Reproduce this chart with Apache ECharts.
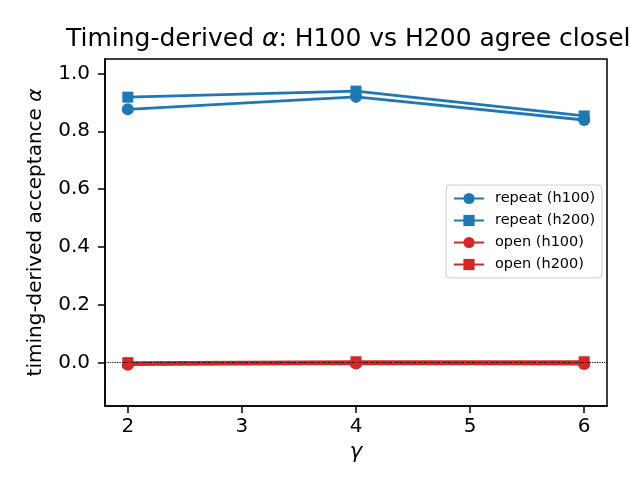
<!DOCTYPE html>
<html>
<head>
<meta charset="utf-8">
<script src="https://cdn.jsdelivr.net/npm/echarts@6/dist/echarts.min.js"></script>
<style>
  html, body { margin: 0; padding: 0; background: #fff; }
  #main { width: 630px; height: 495px; }
</style>
</head>
<body>
<div id="main"></div>
<script>
// gamma values on the x axis
const gammas = [2, 4, 6];
// timing-derived acceptance
const repeatH100 = [0.876, 0.919, 0.839];
const repeatH200 = [0.918, 0.939, 0.853];
const openH100 = [-0.007, -0.003, -0.005];
const openH200 = [0.0, 0.003, 0.003];
// tick labels
const xTicks = [2, 3, 4, 5, 6];
const yTicks = [0.0, 0.2, 0.4, 0.6, 0.8, 1.0];

const BLUE = '#1f77b4';
const RED = '#d62728';
const FONT = 'DejaVu Sans';

function pairs(ys) {
    return gammas.map((g, i) => [g, ys[i]]);
}

function lineSeries(name, ys, color, symbol, size) {
    return {
        name: name,
        type: 'line',
        data: pairs(ys),
        symbol: symbol,
        symbolSize: size,
        showAllSymbol: true,
        lineStyle: { color: color, width: 2.8 },
        itemStyle: { color: color, borderWidth: 0 },
        emphasis: { disabled: true },
        animation: false
    };
}

var chart = echarts.init(document.getElementById('main'), null, { renderer: 'canvas' });

var option = {
    backgroundColor: '#fff',
    animation: false,
    textStyle: { fontFamily: FONT },
    title: {
        text: 'Timing-derived {i|α}: H100 vs H200 agree closel',
        left: 61,
        top: 22,
        textStyle: {
            fontFamily: FONT, fontSize: 25, fontWeight: 'normal', color: '#000',
            rich: { i: { fontFamily: FONT, fontSize: 25, fontStyle: 'italic', color: '#000' } }
        }
    },
    grid: {
        left: 105, right: 23, top: 59, bottom: 89,
        show: true, borderColor: '#000', borderWidth: 1.5, backgroundColor: 'transparent'
    },
    legend: {
        orient: 'vertical',
        left: 446,
        top: 185,
        padding: [6, 7, 6, 7],
        itemWidth: 30,
        itemHeight: 14,
        itemGap: 7,
        borderColor: '#cccccc',
        borderWidth: 1,
        borderRadius: 4,
        backgroundColor: 'rgba(255,255,255,0.8)',
        textStyle: { fontFamily: FONT, fontSize: 14.5, color: '#000', padding: [0, 0, 0, 6] },
        data: ['repeat (h100)', 'repeat (h200)', 'open (h100)', 'open (h200)']
    },
    xAxis: {
        type: 'value',
        min: 1.8,
        max: 6.2,
        name: 'γ',
        nameLocation: 'middle',
        nameGap: 35,
        nameTextStyle: { fontFamily: FONT, fontSize: 21, fontStyle: 'italic', color: '#000' },
        axisLine: { show: true, onZero: false, lineStyle: { color: '#000', width: 1.5 } },
        axisTick: { show: true, inside: false, length: 7, customValues: xTicks, lineStyle: { color: '#000', width: 1.5 } },
        axisLabel: { customValues: xTicks, margin: 11, fontFamily: FONT, fontSize: 20, color: '#000',
            formatter: v => String(v) },
        splitLine: { show: false }
    },
    yAxis: {
        type: 'value',
        min: -0.15,
        max: 1.05,
        name: 'timing-derived acceptance {i|α}',
        nameLocation: 'middle',
        nameGap: 59,
        nameTextStyle: {
            fontFamily: FONT, fontSize: 20, color: '#000',
            rich: { i: { fontFamily: FONT, fontSize: 20, fontStyle: 'italic', color: '#000' } }
        },
        axisLine: { show: true, onZero: false, lineStyle: { color: '#000', width: 1.5 } },
        axisTick: { show: true, inside: false, length: 7, customValues: yTicks, lineStyle: { color: '#000', width: 1.5 } },
        axisLabel: { customValues: yTicks, margin: 15, fontFamily: FONT, fontSize: 20, color: '#000',
            formatter: v => v.toFixed(1) },
        splitLine: { show: false }
    },
    series: [
        lineSeries('repeat (h100)', repeatH100, BLUE, 'circle', 12),
        lineSeries('repeat (h200)', repeatH200, BLUE, 'rect', 11),
        lineSeries('open (h100)', openH100, RED, 'circle', 12),
        lineSeries('open (h200)', openH200, RED, 'rect', 11),
        {
            // dotted zero line drawn on top
            type: 'line',
            data: [],
            z: 10,
            silent: true,
            markLine: {
                silent: true,
                symbol: ['none', 'none'],
                label: { show: false },
                lineStyle: { color: '#000', type: 'dotted', width: 1.2 },
                data: [{ yAxis: 0 }],
                animation: false
            }
        }
    ]
};

chart.setOption(option);
</script>
</body>
</html>
